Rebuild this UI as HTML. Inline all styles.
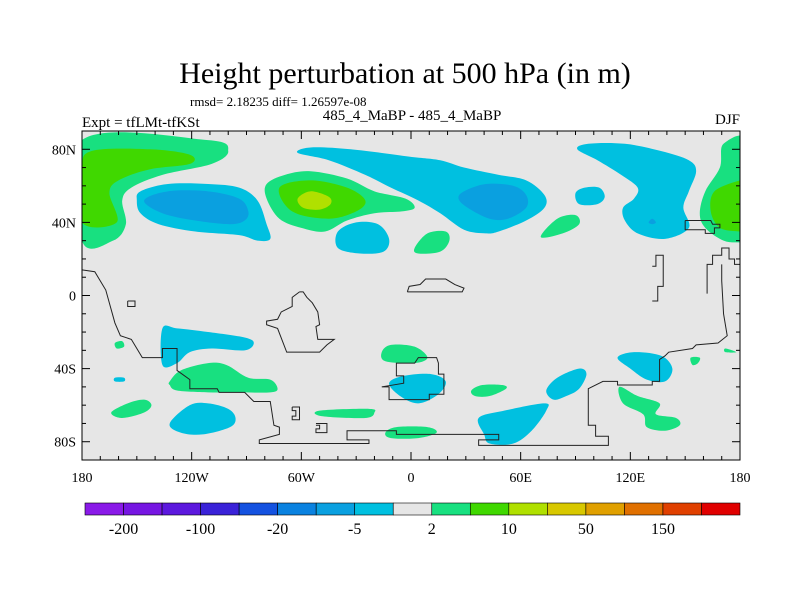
<!DOCTYPE html>
<html><head><meta charset="utf-8"><style>
body{margin:0;background:#fff;width:800px;height:600px;overflow:hidden}
svg{display:block}
text{font-family:"Liberation Serif",serif;fill:#000}
</style></head><body>
<svg id="chart" width="800" height="600" xmlns="http://www.w3.org/2000/svg">
<text x="405" y="83" font-size="30" text-anchor="middle">Height perturbation at 500 hPa (in m)</text>
<text x="190" y="106" font-size="13">rmsd= 2.18235 diff= 1.26597e-08</text>
<text x="82" y="127" font-size="15">Expt = tfLMt-tfKSt</text>
<text x="412" y="120" font-size="15" text-anchor="middle">485_4_MaBP - 485_4_MaBP</text>
<text x="740" y="124" font-size="15" text-anchor="end">DJF</text>
<defs><clipPath id="pc"><rect x="82" y="131" width="658" height="329"/></clipPath></defs>
<rect x="82" y="131" width="658" height="329" fill="#e6e6e6"/>
<g id="fills" clip-path="url(#pc)"></g>
<g id="coast" clip-path="url(#pc)" fill="none" stroke="#222" stroke-width="1"></g>
<rect x="82" y="131" width="658" height="329" fill="none" stroke="#000" stroke-width="1"/>
<g id="ticks" stroke="#000" stroke-width="1"></g>
<g id="labels"></g>
<g id="colorbar"></g>
</svg>
<script>
const levelColors=["#8a1ae8","#7616e2","#5c18de","#3a22d8","#1452e0","#0a82e0","#0aa0e0","#00c0e0","#e6e6e6","#18e080","#40d800","#b0e000","#d8c800","#e0a000","#e07000","#e04000","#e00000"];
const levelLabels=["-200","-100","-20","-5","2","10","50","150"];
const lonTicks=[-180,-120,-60,0,60,120,180];
const lonTickLabels=["180","120W","60W","0","60E","120E","180"];
const latTicks=[80,40,0,-40,-80];
const latTickLabels=["80N","40N","0","40S","80S"];
const regions=[
[9,[[-180,85],[-111,85],[-100,79],[-109,72],[-136,66],[-153,59],[-158,52],[-156,39],[-163,30],[-180,30]]],
[10,[[-180,68],[-175,79],[-143,80],[-121,77],[-121,72],[-143,69],[-160,63],[-165,56],[-161,40],[-180,40]]],
[9,[[171,83],[169,70],[161,57],[158,45],[161,37],[171,30],[180,29],[185,29],[185,83]]],
[10,[[185,63],[180,63],[166,57],[164,46],[169,37],[180,35],[185,35]]],
[7,[[-148,57],[-133,61],[-111,61],[-94,59],[-84,52],[-79,39],[-77,31],[-84,30],[-94,33],[-118,35],[-138,39],[-148,45],[-150,52]]],
[6,[[-146,52],[-133,57],[-111,57],[-94,53],[-89,46],[-91,41],[-99,39],[-118,41],[-136,45]]],
[9,[[-79,61],[-69,66],[-55,68],[-35,64],[-20,57],[-3,53],[2,48],[-5,46],[-20,45],[-35,41],[-47,35],[-60,37],[-72,42],[-79,53]]],
[10,[[-72,59],[-55,63],[-35,59],[-25,52],[-30,46],[-45,42],[-65,46]]],
[11,[[-62,53],[-55,57],[-45,54],[-44,50],[-50,47],[-59,48]]],
[7,[[-62,78],[-55,81],[-33,80],[-1,76],[16,74],[29,70],[48,66],[63,63],[73,55],[73,48],[63,41],[48,35],[41,34],[29,36],[16,45],[4,52],[-11,59],[-25,66],[-45,74]]],
[6,[[29,57],[41,61],[56,60],[63,55],[63,48],[53,42],[43,42],[31,48],[26,53]]],
[7,[[-40,35],[-30,40],[-18,39],[-12,31],[-15,24],[-28,23],[-40,26]]],
[9,[[2,26],[9,34],[19,35],[21,30],[16,24],[4,23]]],
[9,[[71,32],[80,42],[90,44],[92,39],[83,34]]],
[7,[[90,56],[95,59],[103,59],[106,54],[102,50],[92,50]]],
[7,[[91,80],[97,83],[117,83],[137,79],[152,74],[156,68],[152,57],[149,48],[152,37],[139,31],[124,34],[117,41],[116,48],[122,53],[124,59],[115,66],[102,74]]],
[6,[[130,40],[132,42],[134,40],[132,39]]],
[7,[[-136,-18],[-128,-18],[-111,-20],[-91,-23],[-86,-26],[-91,-30],[-109,-29],[-121,-31],[-128,-37],[-136,-38]]],
[9,[[-132,-47],[-126,-41],[-111,-37],[-101,-38],[-89,-45],[-77,-46],[-73,-51],[-77,-53],[-94,-53],[-111,-53],[-128,-52],[-132,-49]]],
[9,[[-164,-64],[-155,-59],[-146,-57],[-142,-60],[-146,-64],[-158,-67]]],
[7,[[-132,-70],[-121,-60],[-111,-59],[-100,-62],[-96,-67],[-99,-72],[-114,-76],[-126,-75]]],
[9,[[-50,-63],[-23,-62],[-20,-64],[-25,-67],[-49,-66]]],
[9,[[-16,-31],[-11,-27],[2,-28],[9,-34],[2,-37],[-14,-36]]],
[7,[[-12,-48],[-4,-44],[11,-43],[19,-47],[15,-54],[4,-59],[-6,-55]]],
[9,[[-14,-75],[-8,-72],[9,-72],[14,-75],[4,-78],[-11,-78]]],
[9,[[33,-52],[39,-49],[50,-49],[52,-51],[43,-55],[35,-55]]],
[7,[[37,-67],[51,-63],[73,-59],[74,-63],[66,-74],[56,-81],[43,-81],[40,-76]]],
[7,[[74,-52],[80,-45],[92,-40],[96,-43],[92,-51],[85,-55],[78,-57]]],
[7,[[113,-34],[122,-31],[137,-33],[143,-40],[139,-47],[129,-46],[120,-40]]],
[9,[[114,-50],[124,-55],[136,-59],[134,-65],[145,-67],[147,-71],[139,-74],[129,-72],[127,-65],[116,-59]]],
[9,[[-162,-26],[-158,-25],[-157,-28],[-161,-29]]],
[7,[[-162,-45],[-157,-45],[-157,-47],[-162,-47]]],
[9,[[153,-34],[158,-34],[157,-37],[154,-38]]],
[9,[[172,-29],[178,-31],[172,-31]]]
];
const coasts=[
[[-180,14],[-173,13],[-170,8],[-167,3],[-162,-15],[-159,-22],[-153,-24],[-147,-34],[-136,-34],[-136,-29],[-128,-29],[-128,-41],[-121,-46],[-121,-51],[-106,-51],[-105,-53],[-91,-53],[-86,-58],[-77,-58],[-75,-71],[-72,-72],[-72,-76],[-83,-79],[-83,-81],[-23,-81],[-23,-79],[-35,-79],[-35,-74],[-8,-74],[-8,-76],[48,-76],[48,-79],[37,-79],[37,-82],[108,-82],[108,-77],[101,-77],[101,-71],[97,-71],[97,-51],[105,-47],[113,-47],[113,-49],[132,-49],[132,-47],[136,-47],[136,-35],[139,-33],[141,-31],[154,-29],[156,-27],[168,-26],[173,-22],[171,-10],[170,8],[170,17]],
[[-61,2],[-59,2],[-57,-1],[-54,-4],[-51,-9],[-50,-16],[-52,-17],[-51,-24],[-42,-24],[-46,-27],[-50,-31],[-68,-31],[-73,-18],[-79,-16],[-79,-14],[-73,-13],[-71,-9],[-65,-6],[-65,-1],[-61,2]],
[[-16,-50],[-12,-50],[-12,-57],[10,-57],[10,-54],[18,-54],[18,-43],[15,-43],[15,-37],[14,-34],[4,-34],[2,-37],[-8,-37],[-8,-44],[-4,-44],[-4,-48],[-10,-49],[-16,-50]],
[[-2,2],[-1,5],[5,6],[8,9],[19,9],[24,6],[29,4],[28,2],[-2,2]],
[[150,41],[164,41],[165,39],[169,39],[169,37],[166,37],[166,34],[161,34],[161,36],[150,36],[150,41]],
[[132,-3],[135,-3],[135,5],[138,5],[138,22],[134,22],[134,16],[132,16]],
[[162,1],[162,17],[165,17],[165,22],[170,22],[170,26],[174,26],[174,20],[177,20],[177,17],[180,17]],
[[-155,-3],[-151,-3],[-151,-6],[-155,-6],[-155,-3]],
[[-65,-61],[-61,-61],[-61,-68],[-65,-68],[-65,-66],[-63,-66],[-63,-63],[-65,-63],[-65,-61]],
[[-52,-70],[-46,-70],[-46,-75],[-52,-75],[-52,-73],[-50,-73],[-50,-71],[-52,-71]]
];
const X0=82,X1=740,Y0=131,Y1=460;
const xs=lon=>X0+(lon+180)/360*(X1-X0);
const ys=lat=>Y0+(90-lat)/180*(Y1-Y0);
const NS="http://www.w3.org/2000/svg";
function mk(tag,attrs,parent){const e=document.createElementNS(NS,tag);for(const k in attrs)e.setAttribute(k,attrs[k]);parent.appendChild(e);return e;}
function smooth(pts){const n=pts.length;let d=`M${pts[0][0]},${pts[0][1]}`;
 for(let i=0;i<n;i++){const p0=pts[(i-1+n)%n],p1=pts[i],p2=pts[(i+1)%n],p3=pts[(i+2)%n];
  d+=` C${p1[0]+(p2[0]-p0[0])/6},${p1[1]+(p2[1]-p0[1])/6} ${p2[0]-(p3[0]-p1[0])/6},${p2[1]-(p3[1]-p1[1])/6} ${p2[0]},${p2[1]}`;}
 return d+"Z";}
const fills=document.getElementById('fills');
regions.forEach(r=>{const pts=r[1].map(p=>[xs(p[0]),ys(p[1])]);
 const e=mk('path',{d:smooth(pts),fill:levelColors[r[0]]},fills);
 
 });
const coast=document.getElementById('coast');
coasts.forEach(c=>{const e=mk('polyline',{points:c.map(p=>xs(p[0])+','+ys(p[1])).join(' ')},coast);
 
 });
const ticks=document.getElementById('ticks'),labels=document.getElementById('labels');
for(let lon=-180;lon<=180;lon+=10){const x=xs(lon),L=(lon%60===0)?8:4;
 mk('line',{x1:x,y1:Y0,x2:x,y2:Y0+L},ticks);mk('line',{x1:x,y1:Y1,x2:x,y2:Y1-L},ticks);}
for(let lat=-90;lat<=90;lat+=10){const y=ys(lat),L=(lat%40===0)?8:4;
 mk('line',{x1:X0,y1:y,x2:X0+L,y2:y},ticks);mk('line',{x1:X1,y1:y,x2:X1-L,y2:y},ticks);}
lonTicks.forEach((lon,i)=>{const t=mk('text',{x:xs(lon),y:482,'font-size':14,'text-anchor':'middle'},labels);t.textContent=lonTickLabels[i];
 
 });
latTicks.forEach((lat,i)=>{const t=mk('text',{x:76,y:ys(lat)+5,'font-size':14,'text-anchor':'end'},labels);t.textContent=latTickLabels[i];
 
 });
const cb=document.getElementById('colorbar');const CB0=85,CB1=740,bw=(CB1-CB0)/levelColors.length;
levelColors.forEach((c,i)=>{const r=mk('rect',{x:CB0+i*bw,y:503,width:bw,height:12,fill:c,stroke:'#000','stroke-width':0.6},cb);
 
 });
levelLabels.forEach((s,i)=>{const t=mk('text',{x:CB0+(1+2*i)*bw,y:534,'font-size':16,'text-anchor':'middle'},cb);t.textContent=s;
 
 });
</script>
</body></html>
